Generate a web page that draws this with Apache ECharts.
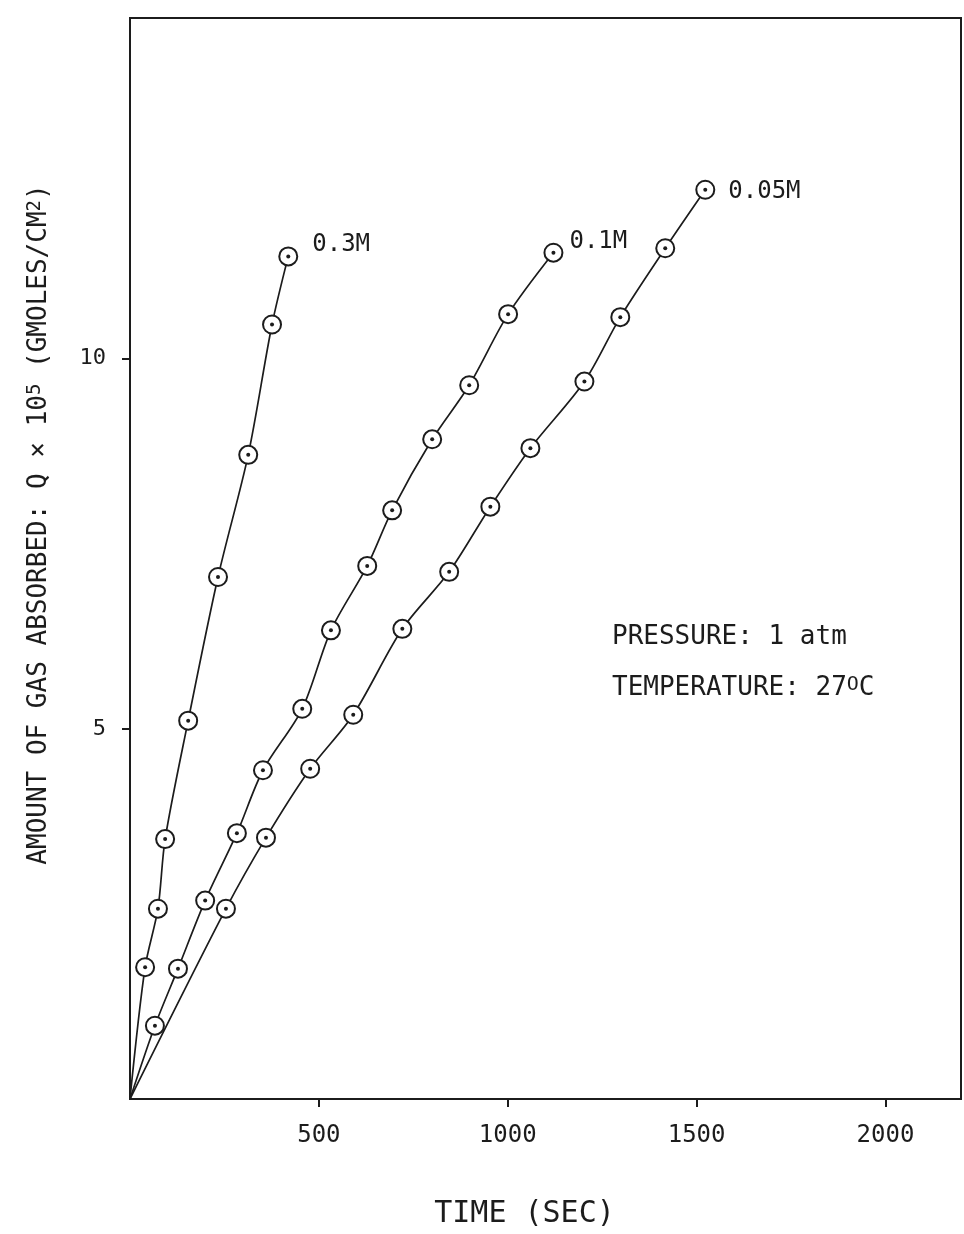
<!DOCTYPE html>
<html>
<head>
<meta charset="utf-8">
<script src="https://cdn.jsdelivr.net/npm/echarts@6/dist/echarts.min.js"></script>
<style>
  html, body { margin: 0; padding: 0; background: #fff; }
  #chart { width: 964px; height: 1234px; }
</style>
</head>
<body>
<div id="chart"></div>
<script>
// Gas absorption: amount absorbed Q x 10^5 (gmoles/cm^2) versus time (sec)
const FONT = "'DejaVu Sans Mono', 'Liberation Mono', monospace";
const INK = '#1c1c1c';

const seriesNames = ['0.3M', '0.1M', '0.05M'];

const time03 = [40, 74, 93, 154, 233, 313, 376, 419];
const q03    = [1.78, 2.57, 3.51, 5.11, 7.05, 8.70, 10.46, 11.38];

const time01 = [66, 127, 199, 283, 352, 456, 532, 628, 694, 800, 898, 1001, 1121];
const q01    = [0.99, 1.76, 2.68, 3.59, 4.44, 5.27, 6.33, 7.20, 7.95, 8.91, 9.64, 10.60, 11.43];

const time005 = [254, 360, 477, 591, 721, 845, 954, 1060, 1203, 1298, 1417, 1523];
const q005    = [2.57, 3.53, 4.46, 5.19, 6.35, 7.12, 8.00, 8.79, 9.69, 10.56, 11.49, 12.28];

const xTickValues = [500, 1000, 1500, 2000];
const yTickValues = [5, 10];

const conditionLines = ['PRESSURE: 1 atm', 'TEMPERATURE: 27{sup|O}C'];

const runs = [
  { name: seriesNames[0], t: time03, q: q03, labelOffset: [12, -12] },
  { name: seriesNames[1], t: time01, q: q01, labelOffset: [4, -11] },
  { name: seriesNames[2], t: time005, q: q005, labelOffset: [11, 2] }
];

const pairs = (t, q) => t.map((v, i) => [v, q[i]]);

const series = [];
runs.forEach(run => {
  const pts = pairs(run.t, run.q);
  const last = pts.length - 1;
  // curve through the measurements, every run starts at the origin
  series.push({
    type: 'line',
    name: run.name,
    data: [[0, 0]].concat(pts),
    smooth: 0.3,
    symbol: 'none',
    lineStyle: { color: INK, width: 1.7 },
    z: 2,
    silent: true
  });
  // hollow circles around each measurement
  series.push({
    type: 'scatter',
    name: run.name + ' points',
    data: pts,
    symbol: 'circle',
    symbolSize: 18,
    itemStyle: { color: '#fff', borderColor: INK, borderWidth: 2, opacity: 1 },
    z: 3,
    label: {
      show: true,
      position: 'right',
      offset: run.labelOffset,
      distance: 2,
      formatter: p => (p.dataIndex === last ? run.name : ''),
      fontFamily: FONT,
      fontSize: 24,
      color: INK
    }
  });
  // centre dot of each measurement
  series.push({
    type: 'scatter',
    name: run.name + ' centres',
    data: pts,
    symbol: 'circle',
    symbolSize: 4,
    itemStyle: { color: INK, opacity: 1 },
    z: 4,
    silent: true
  });
});

const chart = echarts.init(document.getElementById('chart'), null, { renderer: 'canvas' });

chart.setOption({
  animation: false,
  backgroundColor: '#fff',
  grid: {
    left: 130, right: 3, top: 18, bottom: 130,
    show: true, borderColor: INK, borderWidth: 2, backgroundColor: 'transparent'
  },
  xAxis: {
    type: 'value',
    min: 0,
    max: 2200,
    axisLine: { show: true, lineStyle: { color: INK, width: 2 } },
    axisTick: { show: true, inside: false, length: 8, customValues: xTickValues, lineStyle: { color: INK, width: 2 } },
    axisLabel: {
      customValues: xTickValues,
      formatter: v => String(v),
      fontFamily: FONT, fontSize: 24, color: INK, margin: 25
    },
    splitLine: { show: false },
    name: 'TIME (SEC)',
    nameLocation: 'middle',
    nameGap: 100,
    nameTextStyle: { fontFamily: FONT, fontSize: 30, color: INK, padding: [0, 42, 0, 0] }
  },
  yAxis: {
    type: 'value',
    min: 0,
    max: 14.6,
    axisLine: { show: true, lineStyle: { color: INK, width: 2 } },
    axisTick: { show: true, inside: false, length: 8, customValues: yTickValues, lineStyle: { color: INK, width: 2 } },
    axisLabel: {
      customValues: yTickValues,
      formatter: v => String(v),
      fontFamily: FONT, fontSize: 22, color: INK, margin: 24
    },
    splitLine: { show: false },
    name: 'AMOUNT OF GAS ABSORBED: Q \u00d7 10{sup|5} (GMOLES/CM{sup|2})',
    nameLocation: 'middle',
    nameGap: 78,
    nameTextStyle: {
      fontFamily: FONT, fontSize: 26, color: INK,
      padding: [0, 0, 0, 68],
      rich: { sup: { fontFamily: FONT, fontSize: 19, color: INK, verticalAlign: 'top' } }
    }
  },
  graphic: conditionLines.map((txt, i) => ({
    type: 'text',
    x: 612,
    y: 637 + i * 51,
    style: {
      text: txt,
      fontFamily: FONT,
      fontSize: 26,
      fill: INK,
      verticalAlign: 'middle',
      rich: { sup: { fontFamily: FONT, fontSize: 20, fill: INK, verticalAlign: 'top' } }
    }
  })),
  series: series
});
</script>
</body>
</html>
